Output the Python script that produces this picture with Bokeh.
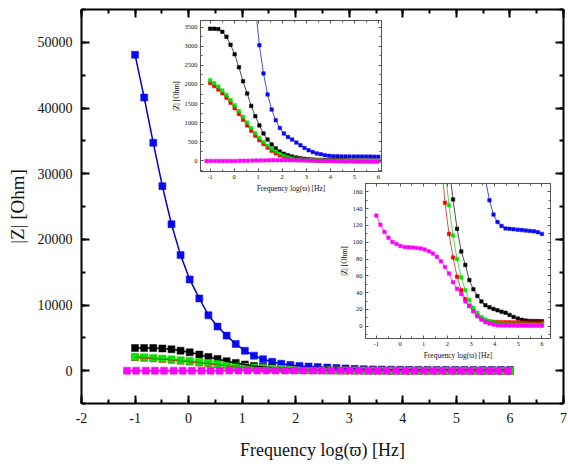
from bokeh.plotting import figure
from bokeh.models import (ColumnDataSource, LinearAxis, SingleIntervalTicker, Range1d, GridBox,
                          NumeralTickFormatter)
from bokeh.embed import file_html
from bokeh.resources import INLINE

# ---------------- data ----------------
log_freq = [-1.00, -0.83, -0.66, -0.49, -0.32, -0.15, 0.02, 0.20, 0.37, 0.54,
            0.71, 0.88, 1.05, 1.22, 1.39, 1.56, 1.73, 1.90, 2.07, 2.24,
            2.41, 2.59, 2.76, 2.93, 3.10, 3.27, 3.44, 3.61, 3.78, 3.95,
            4.12, 4.29, 4.46, 4.63, 4.80, 4.98, 5.15, 5.32, 5.49, 5.66,
            5.83, 6.00]

z_blue = [48100, 41600, 34700, 28100, 22300, 17600, 13900, 11000, 8440, 6720,
          5340, 4070, 3030, 2290, 1740, 1345, 1065, 862, 715, 627,
          558, 480, 410, 340, 280, 232, 196, 175, 150, 133,
          124, 119.5, 116.5, 116, 115.5, 115, 114.5, 114, 113.5, 113,
          112, 110]
z_black = [3460, 3460, 3450, 3380, 3250, 3040, 2790, 2450, 2085, 1765,
           1440, 1170, 930, 720, 560, 430, 325, 245, 190, 151,
           116, 89, 73, 55, 44, 36, 29.6, 25, 22.5, 20.6,
           19, 17.4, 16, 13.5, 11.1, 9.1, 7.6, 6.7, 6.3, 6.2,
           6.1, 6.0]
z_red = [2040, 1960, 1870, 1770, 1650, 1520, 1380, 1230, 1080, 930,
         790, 660, 540, 440, 350, 265, 200, 147, 110, 82,
         59, 43, 32, 24, 18, 13, 9, 6.7, 5.9, 5.3,
         5.0, 4.8, 4.7, 4.7, 4.6, 4.6, 4.6, 4.5, 4.5, 4.5,
         4.5, 4.5]
z_green = [2110, 2030, 1945, 1845, 1725, 1595, 1455, 1305, 1155, 1005,
           860, 725, 600, 490, 395, 315, 245, 190, 144, 108,
           80, 58, 43, 31, 22, 16, 11, 8, 6, 4.8,
           4.0, 3.6, 3.3, 3.1, 3.0, 2.9, 2.9, 2.8, 2.8, 2.8,
           2.8, 2.8]
# magenta sample as shown in the lower-right (zoomed) inset
z_magenta = [131.8, 121, 112.4, 105.3, 100.2, 97.9, 95.5, 94.3, 94, 93.7,
             93.3, 92.6, 91.4, 89.4, 86.7, 82.7, 77.3, 70.6, 62.8, 52.5,
             44.6, 38.3, 29.6, 24.5, 17.8, 11.8, 7.6, 4.7, 3.2, 2.0,
             1.2, 1.0, 0.9, 0.8, 0.8, 0.7, 0.7, 0.6, 0.6, 0.5,
             0.5, 0.5]
# magenta sample as shown in the main plot and the upper inset
log_freq_m = [-1.15, -0.98, -0.80, -0.63, -0.46, -0.28, -0.11, 0.06, 0.24, 0.41,
              0.58, 0.76, 0.93, 1.10, 1.28, 1.45, 1.62, 1.80, 1.97, 2.14,
              2.32, 2.49, 2.66, 2.84, 3.01, 3.18, 3.36, 3.53, 3.70, 3.88,
              4.05, 4.22, 4.40, 4.57, 4.74, 4.92, 5.09, 5.26, 5.44, 5.61,
              5.78, 5.96]
z_magenta_m = [0, 0, 0, 0, 0, 0, 0, 0, 2, 4,
               6, 8, 10, 12, 14, 16, 17, 18, 18, 18,
               17, 16, 14, 12, 10, 8, 5, 2, 0, -3,
               -6, -9, -12, -14, -16, -18, -20, -21, -22, -23,
               -24, -25]

series_colors = {"blue": "#0a0aff", "black": "#000000", "red": "#ff0000",
                 "green": "#00ee00", "magenta": "#ff00ff"}
line_colors = {"blue": "#0000cc", "black": "#000000", "red": "#dd0000",
               "green": "#00cc00", "magenta": "#ee00ee"}

x_title = "Frequency log(\u03d6) [Hz]"
y_title = "|Z| [Ohm]"
FONT = "Liberation Serif"

src = ColumnDataSource(dict(x=log_freq, blue=z_blue, black=z_black, red=z_red,
                            green=z_green))
src_m_zoom = ColumnDataSource(dict(x=log_freq, y=z_magenta))
src_m_wide = ColumnDataSource(dict(x=log_freq_m, y=z_magenta_m))


def draw_series(fig, msize, lw, msrc):
    for name in ["blue", "black", "red", "green"]:
        fig.scatter("x", name, source=src, marker="square", size=msize,
                    fill_color=series_colors[name], line_color=series_colors[name],
                    line_width=0.5)
    for name in ["blue", "black", "red", "green"]:
        fig.line("x", name, source=src, line_color=line_colors[name], line_width=lw)
    fig.scatter("x", "y", source=msrc, marker="square", size=msize,
                fill_color=series_colors["magenta"], line_color=series_colors["magenta"],
                line_width=0.5)
    fig.line("x", "y", source=msrc, line_color=line_colors["magenta"], line_width=lw)


def style_axis(ax, ticker, color, lw, tin, minor_in, fsize, standoff, lab_size=None,
               lab_standoff=0, hide_labels=False):
    ax.ticker = ticker
    ax.axis_line_color = color
    ax.axis_line_width = lw
    ax.major_tick_line_color = color
    ax.minor_tick_line_color = color
    ax.major_tick_line_width = lw
    ax.minor_tick_line_width = lw
    ax.major_tick_in = tin
    ax.major_tick_out = 0
    ax.minor_tick_in = minor_in
    ax.minor_tick_out = 0
    ax.major_label_text_font = FONT
    ax.major_label_text_font_size = fsize
    ax.major_label_text_color = None if hide_labels else "#111111"
    ax.major_label_standoff = standoff
    if lab_size is not None:
        ax.axis_label_text_font = FONT
        ax.axis_label_text_font_size = lab_size
        ax.axis_label_text_font_style = "normal"
        ax.axis_label_text_color = "#111111"
        ax.axis_label_standoff = lab_standoff


def mirror_axes(fig, xt, yt, color, lw, tin, minor_in):
    for loc, tk in (("above", xt), ("right", yt)):
        ax = LinearAxis()
        style_axis(ax, tk, color, lw, tin, minor_in, "0px", 0, hide_labels=True)
        fig.add_layout(ax, loc)


# ---------------- main figure ----------------
p = figure(width=568, height=466, x_range=Range1d(-2, 7), y_range=Range1d(-5000, 55000),
           output_backend="svg", toolbar_location=None,
           min_border_left=81, min_border_right=5, min_border_top=9, min_border_bottom=63,
           outline_line_color=None, background_fill_color="white", border_fill_color="white")
p.xgrid.visible = False
p.ygrid.visible = False
mx = SingleIntervalTicker(interval=1, num_minor_ticks=2)
my = SingleIntervalTicker(interval=10000, num_minor_ticks=2)
p.xaxis.axis_label = x_title
p.yaxis.axis_label = y_title
p.xaxis.formatter = NumeralTickFormatter(format="0")
style_axis(p.xaxis[0], mx, "#000000", 2, 8, 4, "14px", 9, "18px", 14)
style_axis(p.yaxis[0], my, "#000000", 2, 8, 4, "14px", 9, "19px", 7)
mirror_axes(p, mx, my, "#000000", 2, 8, 4)
draw_series(p, 7, 1.5, src_m_wide)


# ---------------- insets ----------------
def make_inset(w, h, bl, br, bt, bb, xr, yr, yint, msrc):
    f = figure(width=w, height=h, x_range=Range1d(*xr), y_range=Range1d(*yr),
               output_backend="svg", toolbar_location=None,
               min_border_left=bl, min_border_right=br, min_border_top=bt,
               min_border_bottom=bb, outline_line_color="#555555",
               background_fill_color="white", border_fill_alpha=0)
    f.xgrid.visible = False
    f.ygrid.visible = False
    xt = SingleIntervalTicker(interval=1, num_minor_ticks=2)
    yt = SingleIntervalTicker(interval=yint, num_minor_ticks=2)
    f.xaxis.axis_label = x_title
    f.yaxis.axis_label = y_title
    f.xaxis.formatter = NumeralTickFormatter(format="0")
    style_axis(f.xaxis[0], xt, "#555555", 1, 3, 2, "6.5px", 3, "7.5px", 2)
    style_axis(f.yaxis[0], yt, "#555555", 1, 3, 2, "6.5px", 3, "7.5px", 1)
    mirror_axes(f, xt, yt, "#555555", 1, 3, 2)
    draw_series(f, 3.5, 0.7, msrc)
    return f


ins1 = make_inset(216, 179, 28, 3, 4, 24, (-1.4, 6.13), (-277, 3675), 500, src_m_wide)
ins2 = make_inset(217, 182, 26, 3, 3, 23, (-1.46, 6.36), (-14.6, 170), 20, src_m_zoom)

layout = GridBox(children=[(p, 0, 0, 5, 5), (ins1, 1, 1, 2, 2), (ins2, 2, 2, 2, 2)],
                 rows=["16px", "164px", "15px", "167px", "104px"],
                 cols=["168px", "168px", "48px", "169px", "15px"])

open("out.html", "w").write(file_html(layout, INLINE))
